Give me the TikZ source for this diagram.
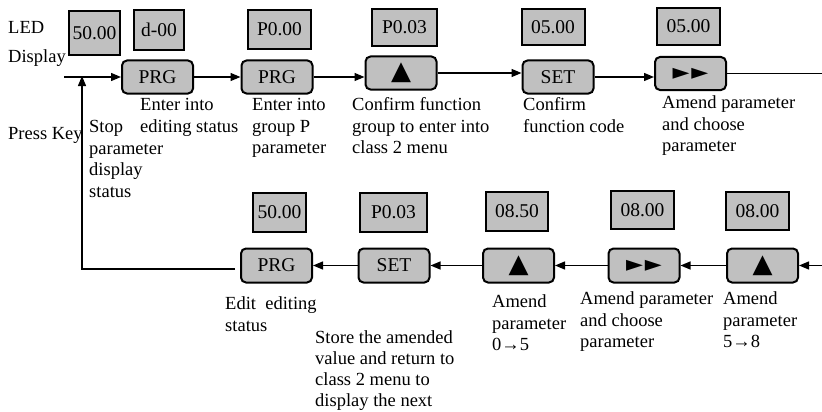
\documentclass[tikz,border=0pt]{standalone}
\usepackage{fontspec}
\setmainfont{Liberation Serif}
\newfontfamily\symfont{DejaVu Sans}
\usetikzlibrary{arrows.meta,positioning,calc}
\definecolor{keygray}{RGB}{192,192,192}

\tikzset{
  disp/.style={draw, line width=2pt, fill=keygray, inner sep=0pt,
    minimum width=63pt, minimum height=38pt, font=\fontsize{19.5}{22}\selectfont},
  key/.style={draw, line width=2pt, fill=keygray, rounded corners=5pt, inner sep=0pt,
    minimum width=71pt, minimum height=33pt, font=\fontsize{19.5}{22}\selectfont},
  note/.style={anchor=north west, align=left, inner sep=0pt,
    font=\fontsize{18.5}{21.5}\selectfont},
  flow/.style={-{Triangle[length=10pt,width=8pt]}, line width=1.3pt},
}
\newcommand{\upsym}{{\symfont\fontsize{26}{26}\selectfont ▲}}
\newcommand{\fwdsym}{{\symfont\fontsize{22}{22}\selectfont ►\hspace{2pt}►}}

\begin{document}
\begin{tikzpicture}[x=1pt,y=-1pt]
    \useasboundingbox (0,0) rectangle (822,412);
    % row headings
    \node[note] (led) at (8,21) {LED\\[7.5pt]Display};
    \node[note] (press) at (8,127.5) {Press Key};
    % LED display, upper row
    \node[disp, minimum width=51pt, minimum height=44pt] (d1) at (94.5,33) {50.00};
    \node[disp, minimum width=50pt, minimum height=40pt] (d2) at (159,30) {d-00};
    \node[disp, minimum height=39pt] (d3) at (279.5,29.5) {P0.00};
    \node[disp, minimum width=65pt, minimum height=37pt] (d4) at (404.5,27.5) {P0.03};
    \node[disp, minimum height=36pt] (d5) at (553,27) {05.00};
    \node[disp, minimum height=37pt] (d6) at (688.5,26.5) {05.00};
    % keys, upper row
    \node[key] (k1) at (157.5,77) {PRG};
    \node[key] (k2) at (277,77) {PRG};
    \node[key] (k3) at (401,73) {\upsym};
    \node[key] (k4) at (558,77) {SET};
    \node[key] (k5) at (690.5,73.5) {\fwdsym};
    % LED display, lower row
    \node[disp, minimum width=53pt, minimum height=39pt] (e1) at (279.5,212.5) {50.00};
    \node[disp, minimum width=67pt, minimum height=39pt] (e2) at (393.5,212.5) {P0.03};
    \node[disp, minimum width=62pt, minimum height=39pt] (e3) at (517,211.5) {08.50};
    \node[disp, minimum height=38pt] (e4) at (642.5,210) {08.00};
    \node[disp, minimum height=38pt] (e5) at (757.5,211) {08.00};
    % keys, lower row
    \node[key, minimum height=34pt] (m1) at (276.5,265.5) {PRG};
    \node[key, minimum height=34pt] (m2) at (394,265.5) {SET};
    \node[key, minimum height=34pt] (m3) at (518.5,265.5) {\upsym};
    \node[key, minimum height=34pt] (m4) at (644,265.5) {\fwdsym};
    \node[key, minimum height=34pt] (m5) at (762.5,265.5) {\upsym};
    % notes
    \node[note] (n0) at (89,120.5) {Stop\\parameter\\display\\status};
    \node[note] (n1) at (140,98.5) {Enter into\\editing status};
    \node[note] (n2) at (252,98.5) {Enter into\\group P\\parameter};
    \node[note] (n3) at (352,97.5) {Confirm function\\group to enter into\\class 2 menu};
    \node[note] (n4) at (523,97.5) {Confirm\\function code};
    \node[note] (n5) at (662,95.5) {Amend parameter\\and choose\\parameter};
    \node[note] (p1) at (225,296.5) {Edit~ editing\\status};
    \node[note, font=\fontsize{18.5}{21}\selectfont] (p2) at (315,330) {Store the amended\\value and return to\\class 2 menu to\\display the next};
    \node[note] (p3) at (492,294.5) {Amend\\parameter\\0→5};
    \node[note] (p4) at (580,291.5) {Amend parameter\\and choose\\parameter};
    \node[note] (p5) at (723,291.5) {Amend\\parameter\\5→8};
    % connectors
    \coordinate (start) at (64,77);
    \coordinate (loopin) at (82,77);
    \coordinate (loopout) at (235,269);
    \coordinate (topend) at (822,73.5);
    \coordinate (lowend) at (822,265.5);
    \draw[flow] (start) -- (k1);
    \draw[flow] (k1) -- (k2);
    \draw[flow] (k2.east) -- (k2.east -| k3.west);
    \draw[flow] (k3.east) -- (k3.east -| k4.west);
    \draw[flow] (k4.east) -- (k4.east -| k5.west);
    \draw[line width=1.3pt] (k5.east) -- (topend);
    \draw[flow] (lowend) -- (m5);
    \draw[flow] (m5) -- (m4);
    \draw[flow] (m4) -- (m3);
    \draw[flow] (m3) -- (m2);
    \draw[flow] (m2) -- (m1);
    \draw[flow] (loopout) -| ([yshift=1pt]loopin);
\end{tikzpicture}
\end{document}
